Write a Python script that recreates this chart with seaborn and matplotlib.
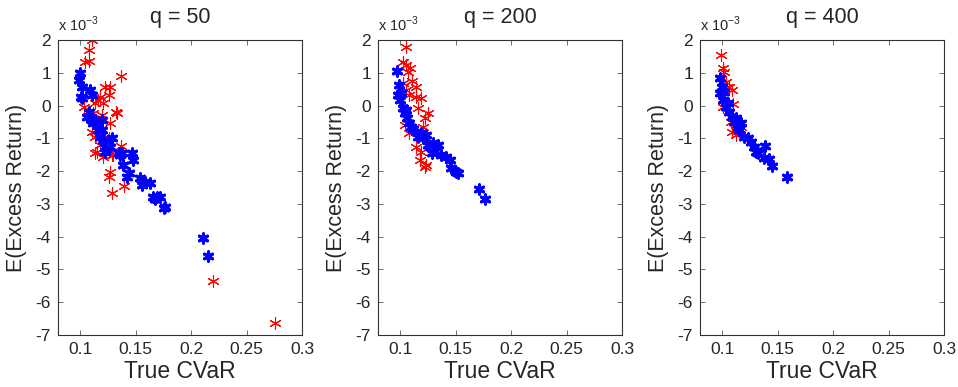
import seaborn as sns
import numpy as np
import pandas as pd
import matplotlib
matplotlib.use("Agg")
import matplotlib.pyplot as plt

# values in units of 1e-3 for E(Excess Return)
q_labels = ["q = 50", "q = 200", "q = 400"]

blue_x_50 = [0.0994, 0.0985, 0.1015, 0.1006, 0.1012, 0.109, 0.1105, 0.106, 0.1084, 0.1105, 0.112, 0.1135,
             0.115, 0.1165, 0.1196, 0.120, 0.118, 0.121, 0.1226, 0.124, 0.1286, 0.127, 0.1226, 0.1346, 0.136,
             0.1376, 0.139, 0.1466, 0.148, 0.142, 0.1436, 0.154, 0.1556, 0.1587, 0.1632, 0.1656, 0.1677,
             0.1692, 0.1722, 0.1758, 0.1767, 0.2107, 0.2149]
blue_y_50 = [1.0, 0.78, 0.56, 0.27, 0.22, 0.47, 0.32, -0.34, -0.19, -0.44, -0.54, -0.44,
             -0.59, -0.75, -0.75, -0.44, -0.95, -1.05, -1.25, -1.15, -1.0, -1.25, -1.41, -1.46, -1.51,
             -1.46, -1.81, -1.46, -1.66, -2.17, -2.07, -2.22, -2.42, -2.32, -2.35, -2.78, -2.86,
             -2.78, -2.78, -3.14, -3.11, -4.03, -4.59]
red_x_50 = [0.1105, 0.1075, 0.1045, 0.1075, 0.137, 0.1226, 0.1265, 0.1256, 0.118, 0.1165, 0.121, 0.1135,
            0.103, 0.112, 0.1196, 0.1325, 0.133, 0.127, 0.1105, 0.1135, 0.118, 0.115, 0.1135, 0.121,
            0.130, 0.1256, 0.137, 0.1286, 0.127, 0.1256, 0.1397, 0.1286, 0.2194, 0.2754]
red_y_50 = [2.0, 1.69, 1.34, 1.37, 0.90, 0.56, 0.56, 0.32, 0.27, 0.17, 0.07, 0.07,
            -0.05, -0.24, -0.29, -0.19, -0.24, -0.54, -0.80, -0.95, -1.2, -1.41, -1.44, -1.56,
            -1.51, -1.0, -1.22, -1.51, -2.02, -2.17, -2.45, -2.66, -5.34, -6.62]

blue_x_200 = [0.0974, 0.0989, 0.098, 0.1001, 0.101, 0.1025, 0.104, 0.1055, 0.1061, 0.1079, 0.110, 0.1116,
              0.1146, 0.116, 0.119, 0.1206, 0.1236, 0.125, 0.1266, 0.1296, 0.1326, 0.134, 0.129, 0.1371,
              0.1416, 0.1446, 0.1461, 0.150, 0.1521, 0.1711, 0.1768]
blue_y_200 = [1.05, 0.63, 0.32, 0.17, 0.37, -0.08, -0.24, -0.14, -0.39, -0.54, -0.64, -0.70,
              -0.80, -0.95, -0.85, -1.0, -0.90, -1.2, -1.25, -1.15, -1.25, -1.2, -1.46, -1.51,
              -1.56, -1.66, -1.92, -2.02, -2.07, -2.56, -2.86]
red_x_200 = [0.1055, 0.1025, 0.1055, 0.1085, 0.107, 0.111, 0.1025, 0.114, 0.105, 0.108, 0.1146, 0.119,
             0.116, 0.125, 0.1221, 0.1206, 0.104, 0.108, 0.1146, 0.119, 0.1176, 0.123, 0.1221]
red_y_200 = [1.8, 1.34, 1.24, 1.14, 1.03, 0.75, 0.68, 0.56, 0.47, 0.32, 0.27, 0.22,
             -0.08, -0.24, -0.39, -0.64, -0.59, -0.83, -1.25, -1.41, -1.66, -1.81, -1.86]

blue_x_400 = [0.0982, 0.0994, 0.0982, 0.1003, 0.1018, 0.1033, 0.1048, 0.1063, 0.1093, 0.1108, 0.1123,
              0.1139, 0.1154, 0.1169, 0.1199, 0.1229, 0.1259, 0.1289, 0.1304, 0.1325, 0.1386, 0.138,
              0.1419, 0.1446, 0.1584]
blue_y_400 = [0.83, 0.58, 0.37, 0.17, 0.42, -0.03, 0.07, -0.19, -0.34, -0.49, -0.39,
              -0.64, -0.75, -0.54, -0.95, -1.0, -1.1, -1.25, -1.41, -1.46, -1.22, -1.61,
              -1.64, -1.83, -2.17]
red_x_400 = [0.0988, 0.1003, 0.1018, 0.1033, 0.1063, 0.1093, 0.1102, 0.1003, 0.1078, 0.1093, 0.1123, 0.1169]
red_y_400 = [1.54, 1.14, 1.03, 0.73, 0.58, 0.47, 0.04, -0.03, -0.49, -0.80, -0.90, -0.64]

panels = [
    (blue_x_50, blue_y_50, red_x_50, red_y_50),
    (blue_x_200, blue_y_200, red_x_200, red_y_200),
    (blue_x_400, blue_y_400, red_x_400, red_y_400),
]

sns.set_style("ticks")
plt.rcParams['font.family'] = ['Liberation Sans', 'DejaVu Sans']
plt.rcParams['mathtext.fontset'] = 'custom'
plt.rcParams['mathtext.rm'] = 'Liberation Sans'
plt.rcParams['axes.unicode_minus'] = False

fig = plt.figure(figsize=(9.58, 3.87), dpi=100)
lefts = [58 / 958, 378 / 958, 700 / 958]
asterisk = (6, 2, 0)

for i, (bx, by, rx, ry) in enumerate(panels):
    ax = fig.add_axes([lefts[i], 1 - 335 / 387, 244 / 958, 295 / 387])
    red_df = pd.DataFrame({"cvar": rx, "ret": ry})
    blue_df = pd.DataFrame({"cvar": bx, "ret": by})
    sns.scatterplot(data=red_df, x="cvar", y="ret", ax=ax, marker=asterisk, color="#ff0000",
                    s=70, linewidth=0.8, edgecolor="#ff0000")
    sns.scatterplot(data=blue_df, x="cvar", y="ret", ax=ax, marker=asterisk, color="#0000ff",
                    s=45, linewidth=2.2, edgecolor="#0000ff")
    ax.set_xlim(0.08, 0.3)
    ax.set_ylim(-7, 2)
    ax.set_xticks([0.1, 0.15, 0.2, 0.25, 0.3])
    ax.set_xticklabels(["0.1", "0.15", "0.2", "0.25", "0.3"])
    ax.set_yticks(np.arange(-7, 3, 1))
    ax.tick_params(direction="in", top=True, right=True, labelsize=12.5, length=3.5, width=0.6,
                   color="#555555", pad=5)
    for sp in ax.spines.values():
        sp.set_color("#333333")
        sp.set_linewidth(0.8)
    ax.set_xlabel("True CVaR", fontsize=16.5, labelpad=2)
    ax.set_ylabel("E(Excess Return)", fontsize=15.5, labelpad=6)
    ax.set_title(q_labels[i], fontsize=15.5, pad=12)
    ax.text(0.0, 1.02, r"x 10$^{-3}$", transform=ax.transAxes, fontsize=10.5, ha="left", va="bottom")

fig.savefig("out.png", dpi=100)
